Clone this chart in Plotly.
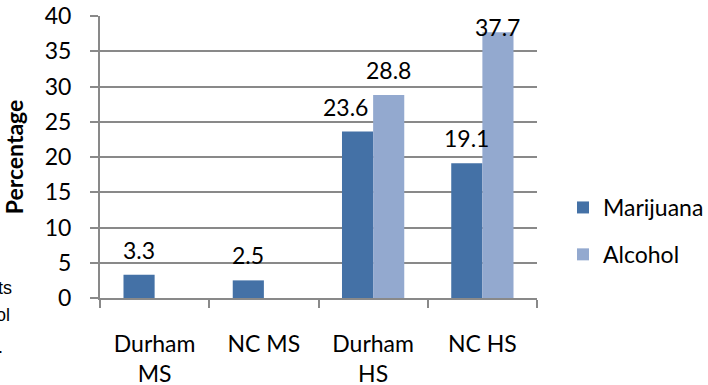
import plotly.graph_objects as go

categories = ["Durham<br>MS", "NC MS", "Durham<br>HS", "NC HS"]
marijuana = [3.3, 2.5, 23.6, 19.1]
alcohol = [None, None, 28.8, 37.7]
y_ticks = [0, 5, 10, 15, 20, 25, 30, 35, 40]

FONT = "Lato, 'Open Sans', sans-serif"
GRID = "#898989"
W, H = 708, 385
M_L, M_R, M_T, M_B = 100, 171, 16, 87
PLOT_W = W - M_L - M_R
PLOT_H = H - M_T - M_B
Y_MAX = 40
BARGAP = 0.43

# hand-placed horizontal nudge (px) for one crowded value label
LABEL_NUDGE = {("Marijuana", "Durham<br>HS"): -12}

fig = go.Figure()
fig.add_trace(go.Bar(name="Marijuana", x=categories, y=marijuana,
                     marker_color="#4471a6", marker_line_width=0, legendgroup="m"))
fig.add_trace(go.Bar(name="Alcohol", x=categories, y=alcohol,
                     marker_color="#93a9cf", marker_line_width=0, legendgroup="a"))

# value labels above each bar, kept inside the plot top when there is no room
cat_w = PLOT_W / len(categories)
bar_w = cat_w * (1 - BARGAP) / 2
px_per_unit = PLOT_H / Y_MAX
for name, sign, vals in [("Marijuana", -1, marijuana), ("Alcohol", 1, alcohol)]:
    for cat, v in zip(categories, vals):
        if v is None:
            continue
        room = (Y_MAX - v) * px_per_unit
        if room >= 40:
            ann = dict(y=v, yanchor="bottom", yshift=9)
        else:
            ann = dict(y=Y_MAX, yanchor="top", yshift=5)
        fig.add_annotation(x=cat, xref="x", yref="y", text=f"{v:g}",
                           showarrow=False,
                           xshift=sign * bar_w / 2 + LABEL_NUDGE.get((name, cat), 0),
                           font=dict(size=23, family=FONT, color="#000"), **ann)

# partially visible side note at the left edge
for txt, px, py, anchor in [("ts", 13, 288, "right"), ("ol", 11, 315, "right"), (".", -3, 347, "left")]:
    fig.add_annotation(
        text=txt, xref="paper", yref="paper",
        x=(px - M_L) / PLOT_W, xanchor=anchor,
        y=(H - M_B - py) / PLOT_H, yanchor="middle",
        showarrow=False, borderpad=0,
        font=dict(size=18, family="Liberation Sans, Arial", color="#000"),
    )

fig.update_layout(
    width=W, height=H,
    margin=dict(l=M_L, r=M_R, t=M_T, b=M_B, autoexpand=False),
    paper_bgcolor="white", plot_bgcolor="white",
    barmode="group", bargap=BARGAP, bargroupgap=0,
    font=dict(family=FONT, size=23, color="#000000"),
    showlegend=True,
    legend=dict(
        x=(563 - M_L) / PLOT_W, xanchor="left",
        y=(H - M_B - 231) / PLOT_H, yanchor="middle",
        font=dict(size=23, family=FONT), traceorder="grouped",
        tracegroupgap=14, itemwidth=30, bgcolor="rgba(0,0,0,0)",
    ),
    xaxis=dict(
        tickson="boundaries", ticks="outside", ticklen=8, tickcolor=GRID, tickwidth=2,
        showline=True, linecolor=GRID, linewidth=2, ticklabelstandoff=24,
        tickfont=dict(size=23, family=FONT), automargin=False,
    ),
    yaxis=dict(
        range=[0, Y_MAX], tickvals=y_ticks, ticks="outside", ticklen=8,
        tickcolor=GRID, tickwidth=2, showline=True, linecolor=GRID, linewidth=2,
        showgrid=True, gridcolor=GRID, gridwidth=2, zeroline=False,
        tickfont=dict(size=23, family=FONT), ticklabelstandoff=14, automargin=False,
        title=dict(text="<b>Percentage</b>", font=dict(size=23, family=FONT), standoff=19),
    ),
)

fig.write_html("out.html")
